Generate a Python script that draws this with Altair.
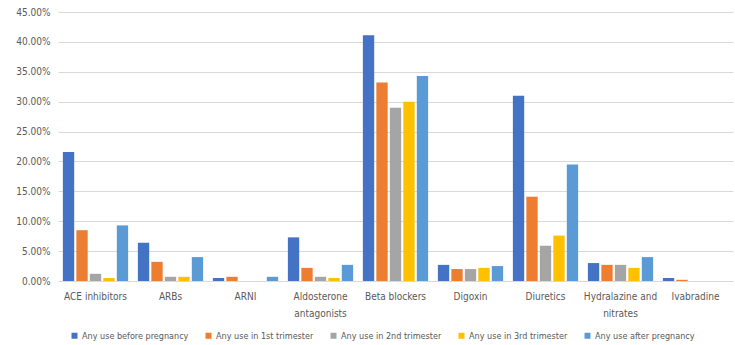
import altair as alt
import pandas as pd

categories = ["ACE inhibitors", "ARBs", "ARNI", "Aldosterone antagonists", "Beta blockers",
              "Digoxin", "Diuretics", "Hydralazine and nitrates", "Ivabradine"]
series = ["Any use before pregnancy", "Any use in 1st trimester", "Any use in 2nd trimester",
          "Any use in 3rd trimester", "Any use after pregnancy"]
before = [21.6, 6.4, 0.5, 7.3, 41.1, 2.7, 31.0, 3.0, 0.5]
first = [8.5, 3.2, 0.7, 2.2, 33.2, 2.0, 14.1, 2.7, 0.2]
second = [1.2, 0.7, 0.0, 0.7, 29.0, 2.0, 5.9, 2.7, 0.0]
third = [0.5, 0.7, 0.0, 0.5, 30.0, 2.2, 7.6, 2.2, 0.0]
after = [9.3, 4.0, 0.7, 2.7, 34.3, 2.5, 19.5, 4.0, 0.0]
colors = ["#4472C4", "#ED7D31", "#A5A5A5", "#FFC000", "#5B9BD5"]

rows = []
for s, vals in zip(series, [before, first, second, third, after]):
    for c, v in zip(categories, vals):
        rows.append({"category": c, "series": s, "value": v / 100.0})
df = pd.DataFrame(rows)

label_expr = ("datum.value == 'Aldosterone antagonists' ? ['Aldosterone', 'antagonists'] : "
              "datum.value == 'Hydralazine and nitrates' ? ['Hydralazine and', 'nitrates'] : datum.value")

font = "DejaVu Sans Condensed"

chart = alt.Chart(df).mark_bar().encode(
    x=alt.X("category:N", sort=categories, title=None,
            scale=alt.Scale(paddingInner=0.13, paddingOuter=0.065),
            axis=alt.Axis(labelAngle=0, ticks=False, domain=False, labelExpr=label_expr,
                          labelFontSize=10, labelColor="#595959", labelPadding=10,
                          labelFont=font, labelLineHeight=17)),
    xOffset=alt.XOffset("series:N", sort=series, scale=alt.Scale(paddingInner=0.16)),
    y=alt.Y("value:Q", title=None,
            scale=alt.Scale(domain=[0, 0.45], nice=False),
            axis=alt.Axis(format=".2%", values=[i * 0.05 for i in range(10)], ticks=False,
                          domain=False, gridColor="#D9D9D9", labelFontSize=10,
                          labelColor="#595959", labelPadding=8, labelFont=font)),
    color=alt.Color("series:N", sort=series, scale=alt.Scale(domain=series, range=colors),
                    legend=alt.Legend(title=None, orient="none", legendX=12, legendY=319,
                                      direction="horizontal", symbolType="square",
                                      symbolSize=36, labelFontSize=9, labelColor="#595959",
                                      labelFont=font, columnPadding=15, symbolStrokeWidth=0,
                                      labelOffset=3, labelLimit=200)),
).properties(
    width=675, height=269,
    autosize=alt.AutoSizeParams(type="none"),
    padding={"left": 58, "top": 12, "right": 2, "bottom": 64},
).configure_view(stroke=None)

chart.save("out.html", embed_options={"renderer": "svg", "actions": False})
